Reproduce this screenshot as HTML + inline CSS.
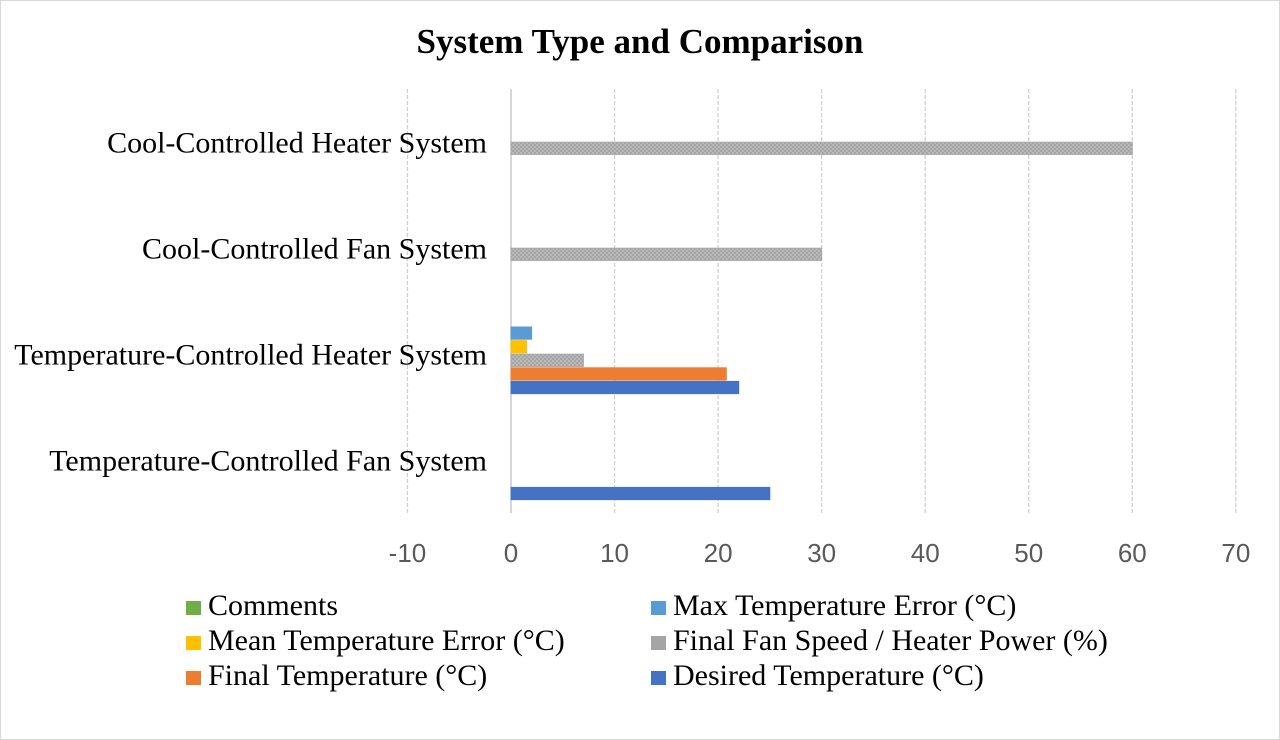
<!DOCTYPE html>
<html><head><meta charset="utf-8"><style>
body{margin:0;background:#fff;}
svg{display:block;font-family:"Liberation Serif",serif;}
</style></head><body>
<svg id="chart" width="1280" height="740">
<defs><pattern id="hatch" width="4" height="4" patternUnits="userSpaceOnUse"><rect width="4" height="4" fill="#a5a5a5"/><rect width="2" height="2" fill="#b8b8b8"/><rect x="2" y="2" width="2" height="2" fill="#b8b8b8"/></pattern></defs>
<rect x="0.5" y="0.5" width="1279" height="739" fill="#fff" stroke="#d9d9d9"/>
<text x="640" y="53" text-anchor="middle" font-size="35" font-weight="bold">System Type and Comparison</text>
<g id="grid"></g><g id="bars"></g><g id="labels"></g><g id="legend"></g>
</svg>
<script>
const categories=["Temperature-Controlled Fan System","Temperature-Controlled Heater System","Cool-Controlled Fan System","Cool-Controlled Heater System"];
const seriesNames=["Desired Temperature (°C)","Final Temperature (°C)","Final Fan Speed / Heater Power (%)","Mean Temperature Error (°C)","Max Temperature Error (°C)","Comments"];
const desired=[25,22,0,0];
const finalTemp=[0,20.8,0,0];
const fanPower=[0,7,30,60];
const meanErr=[0,1.5,0,0];
const maxErr=[0,2,0,0];
const comments=[0,0,0,0];
const ticks=[-10,0,10,20,30,40,50,60,70];
const NS="http://www.w3.org/2000/svg";
const colors=["#4472c4","#ed7d31","url(#hatch)","#ffc000","#5b9bd5","#70ad47"];
const legendColors=["#4472c4","#ed7d31","#a5a5a5","#ffc000","#5b9bd5","#70ad47"];
const series=[desired,finalTemp,fanPower,meanErr,maxErr,comments];
const x=v=>511+(v)*10.355;
const catY=i=>460-i*106;
function mk(t,a,p){const e=document.createElementNS(NS,t);for(const k in a)e.setAttribute(k,a[k]);p.appendChild(e);return e;}
const grid=document.getElementById('grid');
ticks.forEach(t=>{
 const l=mk('line',{x1:x(t),x2:x(t),y1:89,y2:513,stroke:t===0?'#bfbfbf':'#d0d0d0','stroke-width':1.3,'stroke-dasharray':t===0?'':'4,2'},grid);
 
 
 const tx=mk('text',{x:x(t),y:562,'text-anchor':'middle','font-size':26,fill:'#595959','font-family':'Liberation Sans, sans-serif'},grid);
 tx.textContent=t;
 
 
});
const bars=document.getElementById('bars');
series.forEach((s,si)=>{
 s.forEach((v,ci)=>{
  if(!v)return;
  const cy=catY(ci)+33.5-si*13.6;
  const r=mk('rect',{x:Math.min(x(0),x(v)),y:cy-6.2,width:Math.abs(x(v)-x(0)),height:12.4,fill:colors[si],stroke:si===2?'#a5a5a5':colors[si],'stroke-width':0.8},bars);
  
  
 });
});
const labels=document.getElementById('labels');
categories.forEach((c,i)=>{
 const t=mk('text',{x:487,y:catY(i)+10.5,'text-anchor':'end','font-size':30},labels);
 t.textContent=c;
 
 
});
const legend=document.getElementById('legend');
const order=[5,4,3,2,1,0];
order.forEach((si,k)=>{
 const col=k%2,row=Math.floor(k/2);
 const lx=col?651:186, ly=615+row*35;
 const g=mk('g',{},legend);
 
 
 mk('rect',{x:lx,y:ly-14,width:15,height:14,fill:legendColors[si]},g);
 const t=mk('text',{x:lx+22,y:ly,'font-size':30},g);
 t.textContent=seriesNames[si];
});
</script>
</body></html>
